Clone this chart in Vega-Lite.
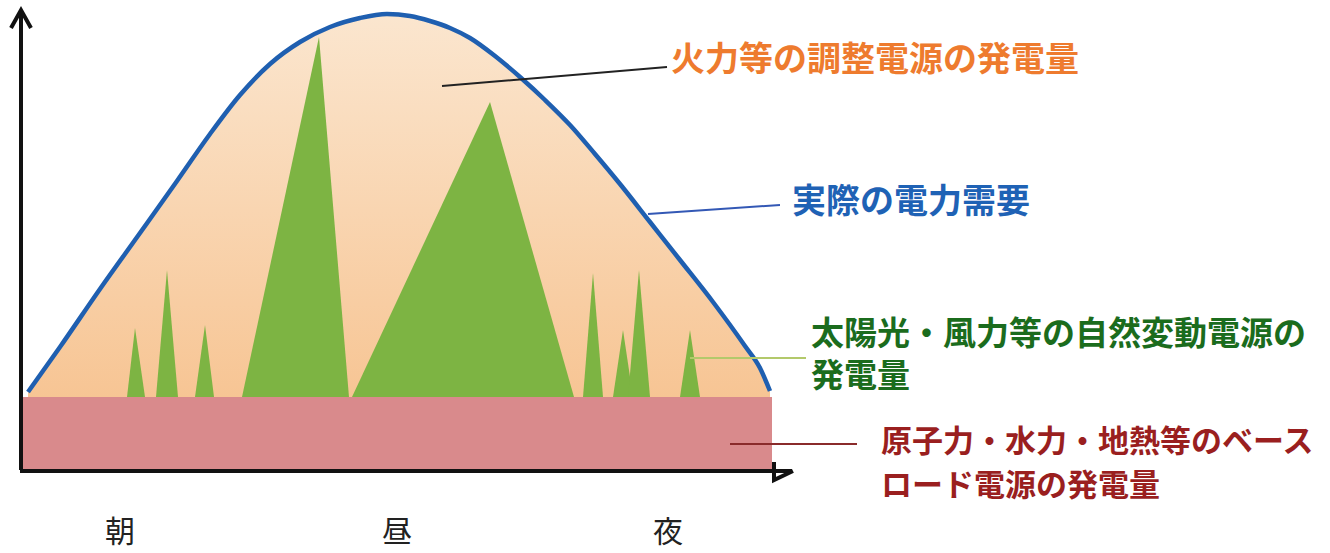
{
  "$schema": "https://vega.github.io/schema/vega-lite/v6.json",
  "width": 1330,
  "height": 553,
  "autosize": {"type": "none"},
  "padding": 0,
  "background": "white",
  "config": {"view": {"stroke": null}},
  "datasets": {
    "demand": [
      {"t": 28, "p": 161}, {"t": 60, "p": 206}, {"t": 100, "p": 264}, {"t": 140, "p": 320},
      {"t": 177, "p": 372}, {"t": 210, "p": 419}, {"t": 240, "p": 458}, {"t": 270, "p": 489},
      {"t": 300, "p": 511}, {"t": 330, "p": 526}, {"t": 360, "p": 535}, {"t": 387, "p": 539},
      {"t": 410, "p": 537}, {"t": 430, "p": 532}, {"t": 450, "p": 525}, {"t": 470, "p": 515},
      {"t": 495, "p": 497}, {"t": 520, "p": 476}, {"t": 545, "p": 453}, {"t": 570, "p": 428},
      {"t": 595, "p": 399}, {"t": 620, "p": 369}, {"t": 650, "p": 331}, {"t": 680, "p": 293},
      {"t": 713, "p": 251}, {"t": 745, "p": 207}, {"t": 760, "p": 185}, {"t": 770, "p": 162}
    ],
    "renewables": [
      {"id": "a", "t": 127, "p": 156}, {"id": "a", "t": 135, "p": 225}, {"id": "a", "t": 145, "p": 156},
      {"id": "b", "t": 156, "p": 156}, {"id": "b", "t": 167, "p": 283}, {"id": "b", "t": 178, "p": 156},
      {"id": "c", "t": 195, "p": 156}, {"id": "c", "t": 205, "p": 228}, {"id": "c", "t": 214, "p": 156},
      {"id": "d", "t": 242, "p": 156}, {"id": "d", "t": 319, "p": 516}, {"id": "d", "t": 349, "p": 156},
      {"id": "e", "t": 352, "p": 156}, {"id": "e", "t": 490, "p": 451}, {"id": "e", "t": 574, "p": 156},
      {"id": "f", "t": 583, "p": 156}, {"id": "f", "t": 593, "p": 280}, {"id": "f", "t": 603, "p": 156},
      {"id": "g", "t": 613, "p": 156}, {"id": "g", "t": 623, "p": 223}, {"id": "g", "t": 633, "p": 156},
      {"id": "h", "t": 628, "p": 156}, {"id": "h", "t": 639, "p": 283}, {"id": "h", "t": 650, "p": 156},
      {"id": "i", "t": 680, "p": 156}, {"id": "i", "t": 690, "p": 223}, {"id": "i", "t": 700, "p": 156}
    ],
    "baseload": [{"t0": 22, "t1": 772, "p0": 83, "p1": 156}],
    "axes": [
      {"id": "y", "t": 21, "p": 83}, {"id": "y", "t": 21, "p": 543},
      {"id": "yhead", "t": 11, "p": 525}, {"id": "yhead", "t": 21, "p": 543}, {"id": "yhead", "t": 31, "p": 525},
      {"id": "x", "t": 20, "p": 82}, {"id": "x", "t": 792, "p": 82},
      {"id": "xhead", "t": 774, "p": 91}, {"id": "xhead", "t": 793, "p": 82}, {"id": "xhead", "t": 774, "p": 73}
    ],
    "leaders": [
      {"kind": "thermal", "t": 442, "p": 467}, {"kind": "thermal", "t": 667, "p": 486},
      {"kind": "demand", "t": 648, "p": 339}, {"kind": "demand", "t": 780, "p": 348},
      {"kind": "renewable", "t": 690, "p": 195}, {"kind": "renewable", "t": 806, "p": 195},
      {"kind": "base", "t": 730, "p": 109}, {"kind": "base", "t": 857, "p": 109}
    ],
    "labels": [
      {"kind": "thermal", "t": 671, "p": 492, "text": "火力等の調整電源の発電量"},
      {"kind": "demand", "t": 792, "p": 350, "text": "実際の電力需要"},
      {"kind": "renewable", "t": 811, "p": 218, "text": "太陽光・風力等の自然変動電源の"},
      {"kind": "renewable", "t": 811, "p": 176, "text": "発電量"},
      {"kind": "base", "t": 881, "p": 110, "text": "原子力・水力・地熱等のベース"},
      {"kind": "base", "t": 881, "p": 66, "text": "ロード電源の発電量"}
    ],
    "times": [
      {"t": 120, "p": 20, "text": "朝"},
      {"t": 397, "p": 20, "text": "昼"},
      {"t": 668, "p": 20, "text": "夜"}
    ]
  },
  "encoding": {
    "x": {"field": "t", "type": "quantitative", "scale": {"domain": [0, 1330], "nice": false, "zero": false}, "axis": null},
    "y": {"field": "p", "type": "quantitative", "scale": {"domain": [0, 553], "nice": false, "zero": false}, "axis": null}
  },
  "layer": [
    {
      "data": {"name": "demand"},
      "mark": {
        "type": "area",
        "interpolate": "monotone",
        "fill": {
          "gradient": "linear", "x1": 0, "y1": 0, "x2": 0, "y2": 1,
          "stops": [{"offset": 0, "color": "#fbe6cf"}, {"offset": 1, "color": "#f7c594"}]
        }
      },
      "encoding": {"y2": {"datum": 156}}
    },
    {
      "data": {"name": "baseload"},
      "mark": {"type": "rect", "color": "#d98a8c"},
      "encoding": {
        "x": {"field": "t0", "type": "quantitative"},
        "x2": {"field": "t1"},
        "y": {"field": "p0", "type": "quantitative"},
        "y2": {"field": "p1"}
      }
    },
    {
      "data": {"name": "renewables"},
      "mark": {"type": "area", "color": "#7db443", "interpolate": "linear", "opacity": 1},
      "encoding": {
        "detail": {"field": "id", "type": "nominal"},
        "y": {"field": "p", "type": "quantitative", "stack": null},
        "y2": {"datum": 156}
      }
    },
    {
      "data": {"name": "demand"},
      "mark": {"type": "line", "interpolate": "monotone", "color": "#1f5fb0", "strokeWidth": 4.5, "strokeCap": "butt"},
      "encoding": {}
    },
    {
      "data": {"name": "axes"},
      "mark": {"type": "line", "color": "#111111", "strokeWidth": 4, "strokeJoin": "miter"},
      "encoding": {"detail": {"field": "id", "type": "nominal"}}
    },
    {
      "data": {"name": "leaders"},
      "mark": {"type": "line", "strokeWidth": 2},
      "encoding": {
        "detail": {"field": "kind", "type": "nominal"},
        "color": {
          "field": "kind", "type": "nominal", "legend": null,
          "scale": {"domain": ["thermal", "demand", "renewable", "base"], "range": ["#222222", "#3358b5", "#b3c96b", "#8a2b2b"]}
        }
      }
    },
    {
      "data": {"name": "labels"},
      "transform": [{"filter": "datum.kind === 'thermal' || datum.kind === 'demand'"}],
      "mark": {"type": "text", "align": "left", "baseline": "middle", "font": "Noto Sans CJK JP", "fontWeight": "bold", "fontSize": 34},
      "encoding": {
        "text": {"field": "text"},
        "fill": {
          "field": "kind", "type": "nominal", "legend": null,
          "scale": {"domain": ["thermal", "demand"], "range": ["#ee7b2e", "#1f62b5"]}
        }
      }
    },
    {
      "data": {"name": "labels"},
      "transform": [{"filter": "datum.kind === 'renewable'"}],
      "mark": {"type": "text", "align": "left", "baseline": "middle", "font": "Noto Sans CJK JP", "fontWeight": "bold", "fontSize": 33, "color": "#1b6c1d"},
      "encoding": {"text": {"field": "text"}}
    },
    {
      "data": {"name": "labels"},
      "transform": [{"filter": "datum.kind === 'base'"}],
      "mark": {"type": "text", "align": "left", "baseline": "middle", "font": "Noto Sans CJK JP", "fontWeight": "bold", "fontSize": 31, "color": "#9a1f1f"},
      "encoding": {"text": {"field": "text"}}
    },
    {
      "data": {"name": "times"},
      "mark": {"type": "text", "align": "center", "baseline": "middle", "font": "Noto Sans CJK JP", "fontSize": 30, "color": "#222222"},
      "encoding": {"text": {"field": "text"}}
    }
  ],
  "resolve": {"scale": {"color": "independent", "fill": "independent"}}
}
